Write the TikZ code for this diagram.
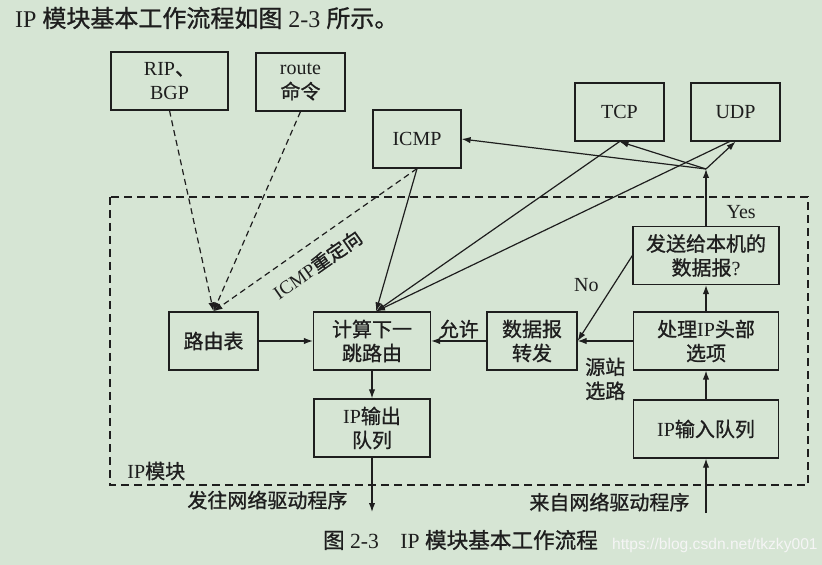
\documentclass[tikz,border=0pt]{standalone}
\usepackage{fontspec}
\setmainfont{Liberation Serif}
\newfontfamily\cjk{Noto Sans CJK SC}[FakeBold=1]
\newfontfamily\urlfont{Liberation Sans}
\newcommand\zh[1]{{\cjk #1}}
\usetikzlibrary{arrows.meta}
\definecolor{paper}{RGB}{214,229,212}
\definecolor{ink}{RGB}{30,30,30}

\begin{document}
\begin{tikzpicture}[x=0.5pt, y=-0.5pt,
	box/.style={draw=ink, line width=0.6pt, minimum height=29pt, align=center, inner sep=2pt, text=ink, font=\fontsize{10}{12}\selectfont},
	lbl/.style={text=ink, inner sep=1pt, font=\fontsize{10}{12}\selectfont},
	arr/.style={draw=ink, line width=0.6pt, -{Latex[length=4.5pt,width=3.2pt]}},
	dasharr/.style={arr, dash pattern=on 3pt off 2pt},
	]
	% background and page size
	\fill[paper] (0,0) rectangle (822,565);
	\useasboundingbox (0,0) rectangle (822,565);
	
	% heading line
	\node[anchor=west, text=ink, font=\fontsize{12}{14}\selectfont] (title) at (8,18) {IP \zh{模块基本工作流程如图} 2-3 \zh{所示。}};
	
	% outside the module
	\node[box, minimum width=58.5pt] (rip) at (169.5,81) {RIP\zh{、}\\BGP};
	\node[box, minimum width=44.5pt] (route) at (300.5,82) {route\\\zh{命令}};
	\node[box, minimum width=44pt] (icmp) at (417,139) {ICMP};
	\node[box, minimum width=44.5pt] (tcp) at (619.5,112) {TCP};
	\node[box, minimum width=44.5pt] (udp) at (735.5,112) {UDP};
	
	% IP module frame
	\draw[ink, line width=0.6pt, dash pattern=on 4pt off 2.5pt] (110,197) rectangle (808,485);
	\node[lbl, anchor=west] (module) at (125,471) {IP\zh{模块}};
	
	% inside the module
	\node[box, minimum width=73pt] (local) at (706,255.5) {\zh{发送给本机的}\\\zh{数据报}?};
	\node[box, minimum width=44.5pt] (table) at (213.5,341) {\zh{路由表}};
	\node[box, minimum width=58.5pt] (nexthop) at (372,341) {\zh{计算下一}\\\zh{跳路由}};
	\node[box, minimum width=45pt] (forward) at (532,341) {\zh{数据报}\\\zh{转发}};
	\node[box, minimum width=72.5pt] (options) at (706,341) {\zh{处理}IP\zh{头部}\\\zh{选项}};
	\node[box, minimum width=58pt] (outq) at (372,428) {IP\zh{输出}\\\zh{队列}};
	\node[box, minimum width=72.5pt] (inq) at (706,429) {IP\zh{输入队列}};
	
	\coordinate (split) at (706,169);
	\coordinate (out) at (372,512);
	\coordinate (in) at (706,513);
	
	% routing table updates
	\draw[dasharr] (rip.south) -- (table.north);
	\draw[dasharr] (route.south) -- (table.north);
	\draw[dasharr] (icmp.south) -- node[lbl, sloped, below=5pt, pos=0.55, font=\fontsize{9.5}{11}\selectfont] {ICMP\zh{重定向}} (table.north);
	
	% from upper layers
	\draw[arr] (icmp.south) -- ([xshift=2pt]nexthop.north);
	\draw[arr] (tcp.south) -- ([xshift=2pt]nexthop.north);
	\draw[arr] ([xshift=-3pt]udp.south) -- ([xshift=2pt]nexthop.north);
	
	% forwarding path
	\draw[arr] (table) -- (nexthop);
	\draw[arr] (forward) -- node[lbl, above] {\zh{允许}} (nexthop);
	\draw[arr] (options) -- node[lbl, below=7pt, align=center] {\zh{源站}\\\zh{选路}} (forward);
	\draw[arr] (local.west) -- node[lbl, pos=0.35, left=6pt] {No} (forward.east);
	\draw[arr] (nexthop) -- (outq);
	\draw[arr] (inq) -- (options);
	\draw[arr] (options) -- (local);
	
	% delivered to this host
	\draw[arr] (local) -- node[lbl, pos=0.25, right=9pt] {Yes} (split);
	\foreach \dst in {icmp.east, tcp.south, udp.south}
		\draw[arr] (split) -- (\dst);
	
	% network drivers
	\draw[arr] (outq) -- node[lbl, pos=0.78, left=11pt] {\zh{发往网络驱动程序}} (out);
	\draw[arr] (in) -- node[lbl, pos=0.2, left=7pt] {\zh{来自网络驱动程序}} (inq);
	
	% caption
	\node[anchor=west, text=ink, font=\fontsize{10.8}{12}\selectfont] (caption) at (316,540) {\zh{图} 2-3\quad IP \zh{模块基本工作流程}};
	\node[anchor=west, text=white!92!gray, font=\urlfont\fontsize{7.8}{9}\selectfont] (mark) at (605,545) {https://blog.csdn.net/tkzky001};
\end{tikzpicture}
\end{document}
